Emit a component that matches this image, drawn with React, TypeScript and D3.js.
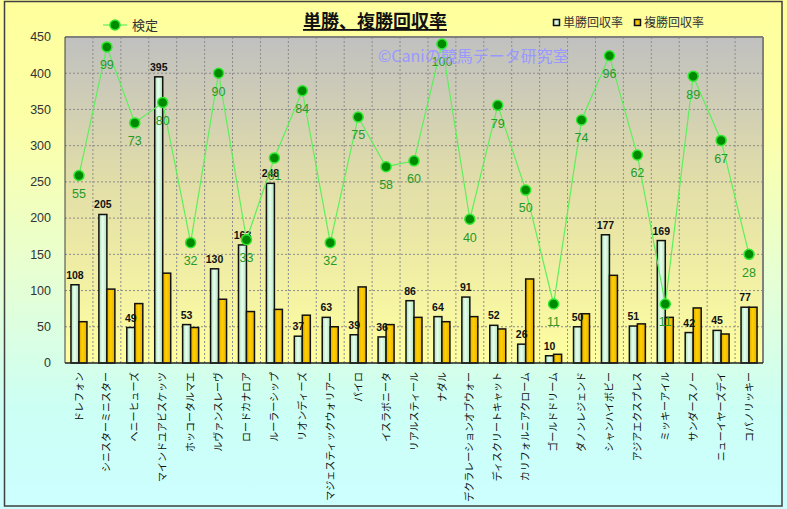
import React, { useEffect } from "react";
import * as d3 from "d3";

const categories = [
  "ドレフォン", "シニスターミニスター", "ヘニーヒューズ", "マインドユアビスケッツ", "ホッコータルマエ",
  "ルヴァンスレーヴ", "ロードカナロア", "ルーラーシップ", "リオンディーズ", "マジェスティックウォリアー",
  "パイロ", "イスラボニータ", "リアルスティール", "ナダル", "デクラレーションオブウォー",
  "ディスクリートキャット", "カリフォルニアクローム", "ゴールドドリーム", "ダノンレジェンド", "シャンハイボビー",
  "アジアエクスプレス", "ミッキーアイル", "サンダースノー", "ニューイヤーズデイ", "コパノリッキー",
];
const winReturn = [108, 205, 49, 395, 53, 130, 163, 248, 37, 63, 39, 36, 86, 64, 91, 52, 26, 10, 50, 177, 51, 169, 42, 45, 77];
const placeReturn = [57, 102, 82, 124, 49, 88, 71, 74, 66, 50, 105, 53, 63, 57, 64, 47, 116, 12, 68, 121, 54, 63, 76, 40, 77];
const kentei = [55, 99, 73, 80, 32, 90, 33, 61, 84, 32, 75, 58, 60, 100, 40, 79, 50, 11, 74, 96, 62, 11, 89, 67, 28];
const yTicks = [0, 50, 100, 150, 200, 250, 300, 350, 400, 450];

const W = 787, H = 509;
const L = 65, R = 763, T = 37, B = 363;

export default function App() {
  useEffect(() => {
    document.body.style.margin = "0";
  }, []);

  const x0 = d3.scaleBand<string>().domain(categories).range([L, R]).padding(0);
  const x1 = d3.scaleBand<string>().domain(["win", "place"]).range([0, x0.bandwidth()]).paddingInner(0).paddingOuter(0.745);
  const y = d3.scaleLinear().domain([0, 450]).range([B, T]);
  const y2 = d3.scaleLinear().domain([-9.2, 102.4]).range([B, T]);

  const line = d3.line<number>()
    .x((_, i) => (x0(categories[i]) as number) + x0.bandwidth() / 2)
    .y((v) => y2(v));

  const numFont = "'Liberation Sans', Arial, sans-serif";
  const jpFont = "'Noto Sans CJK JP', sans-serif";

  return (
    <svg width={W} height={H} style={{ display: "block" }}>
      <defs>
        <linearGradient id="bg" x1="0" y1="0" x2="0" y2="1">
          <stop offset="0" stopColor="#ffff9c" />
          <stop offset="0.25" stopColor="#fcffa8" />
          <stop offset="0.55" stopColor="#e6ffd4" />
          <stop offset="0.8" stopColor="#ccfff4" />
          <stop offset="1" stopColor="#ccffff" />
        </linearGradient>
        <linearGradient id="plotbg" x1="0" y1="0" x2="0" y2="1">
          <stop offset="0" stopColor="#c0c0c0" />
          <stop offset="0.45" stopColor="#e2dea8" />
          <stop offset="1" stopColor="#ffffa0" />
        </linearGradient>
        <linearGradient id="gbar" x1="0" y1="0" x2="1" y2="0">
          <stop offset="0" stopColor="#a6dcae" />
          <stop offset="0.45" stopColor="#e8fff0" />
          <stop offset="1" stopColor="#b0e2b8" />
        </linearGradient>
        <linearGradient id="ybar" x1="0" y1="0" x2="1" y2="0">
          <stop offset="0" stopColor="#e0a800" />
          <stop offset="0.45" stopColor="#ffd000" />
          <stop offset="1" stopColor="#e6b000" />
        </linearGradient>
      </defs>

      <rect x={0} y={0} width={W} height={H} fill="url(#bg)" />
      <rect x={4.5} y={1.5} width={777.5} height={504.5} fill="none" stroke="#404040" strokeWidth={1.5} />

      {/* plot area */}
      <rect x={L} y={T} width={R - L} height={B - T} fill="url(#plotbg)" />
      {yTicks.filter((t) => t > 0 && t < 450).map((t) => (
        <line key={"h" + t} x1={L} x2={R} y1={y(t)} y2={y(t)} stroke="#8c8c8c" strokeDasharray="2,2" strokeWidth={1} />
      ))}
      {categories.slice(1).map((c) => (
        <line key={"v" + c} x1={x0(c) as number} x2={x0(c) as number} y1={T} y2={B} stroke="#8c8c8c" strokeDasharray="2,2" strokeWidth={1} />
      ))}
      <line x1={L} x2={R} y1={T} y2={T} stroke="#808080" strokeWidth={2} />
      <line x1={R} x2={R} y1={T} y2={B} stroke="#808080" strokeWidth={2} />
      <line x1={L} x2={L} y1={T} y2={B} stroke="#404040" strokeWidth={1} />

      {/* y axis labels */}
      {yTicks.map((t) => (
        <text key={"yt" + t} x={51} y={y(t)} dy="0.35em" textAnchor="end" fontSize={12.5} fill="#333" fontFamily={numFont}>
          {t}
        </text>
      ))}

      {/* bars */}
      {categories.map((c, i) => {
        const bx = x0(c) as number;
        const gx = bx + (x1("win") as number);
        const px = bx + (x1("place") as number);
        const bw = x1.bandwidth();
        return (
          <g key={"b" + c}>
            <rect x={gx} y={y(winReturn[i])} width={bw} height={B - y(winReturn[i])} fill="url(#gbar)" stroke="#111" strokeWidth={1.5} />
            <rect x={px} y={y(placeReturn[i])} width={bw} height={B - y(placeReturn[i])} fill="url(#ybar)" stroke="#111" strokeWidth={1.5} />
          </g>
        );
      })}
      <line x1={L} x2={R} y1={B} y2={B} stroke="#222" strokeWidth={1.5} />

      {/* bar value labels */}
      {categories.map((c, i) => {
        const gx = (x0(c) as number) + (x1("win") as number) + x1.bandwidth() / 2;
        return (
          <text key={"bl" + c} x={gx} y={y(winReturn[i]) - 6} textAnchor="middle" fontSize={10.5} fontWeight="bold" fill="#111" fontFamily={numFont}>
            {winReturn[i]}
          </text>
        );
      })}

      {/* line series */}
      <path d={line(kentei) || ""} fill="none" stroke="#5cf05c" strokeWidth={1.2} />
      {kentei.map((v, i) => (
        <circle key={"d" + i} cx={(x0(categories[i]) as number) + x0.bandwidth() / 2} cy={y2(v)} r={5} fill="#008a00" stroke="#2ee82e" strokeWidth={1.5} />
      ))}
      {kentei.map((v, i) => (
        <text key={"dl" + i} x={(x0(categories[i]) as number) + x0.bandwidth() / 2} y={y2(v) + 18} dy="0.35em" textAnchor="middle" fontSize={12.5} fill="#269a26" fontFamily={numFont}>
          {v}
        </text>
      ))}

      {/* x labels */}
      {categories.map((c) => (
        <text
          key={"xl" + c}
          transform={`translate(${(x0(c) as number) + x0.bandwidth() / 2},${372}) rotate(-90)`}
          textAnchor="end"
          dy="0.36em"
          fontSize={10}
          fill="#111"
          fontFamily={jpFont}
        >
          {c}
        </text>
      ))}

      {/* watermark */}
      <text x={378} y={62} fontSize={16} fill="#9999ff" fontFamily={jpFont}>©Caniの競馬データ研究室</text>

      {/* title */}
      <text x={375} y={28} textAnchor="middle" fontSize={18} fontWeight="bold" fill="#111" fontFamily={jpFont} textDecoration="underline">
        単勝、複勝回収率
      </text>

      {/* legend left */}
      <line x1={103} x2={127} y1={25} y2={25} stroke="#5cf05c" strokeWidth={1.2} />
      <circle cx={115} cy={25} r={5} fill="#008a00" stroke="#2ee82e" strokeWidth={1.5} />
      <text x={132} y={25} dy="0.36em" fontSize={13} fill="#333" fontFamily={jpFont}>検定</text>

      {/* legend right */}
      <rect x={553.5} y={19.5} width={6} height={6} fill="url(#gbar)" stroke="#111" strokeWidth={1.5} />
      <text x={563} y={23} dy="0.36em" fontSize={12} fill="#333" fontFamily={jpFont}>単勝回収率</text>
      <rect x={634.5} y={19.5} width={6} height={6} fill="url(#ybar)" stroke="#111" strokeWidth={1.5} />
      <text x={644} y={23} dy="0.36em" fontSize={12} fill="#333" fontFamily={jpFont}>複勝回収率</text>
    </svg>
  );
}
